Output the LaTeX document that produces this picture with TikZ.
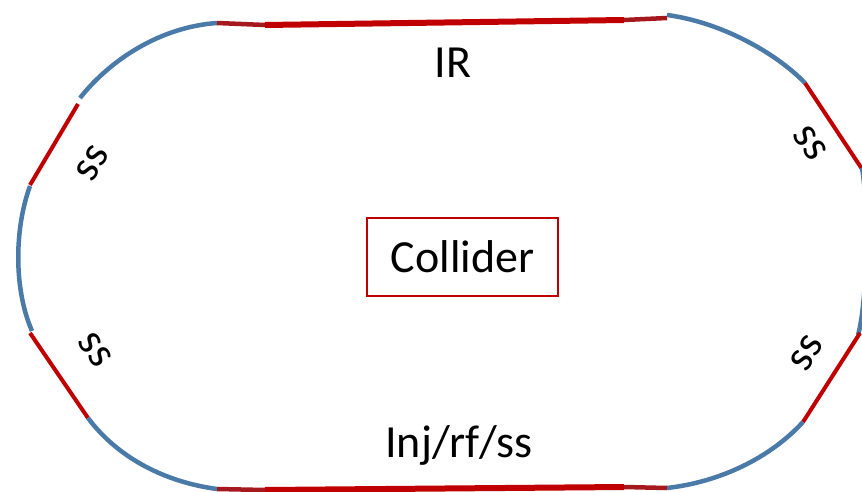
\documentclass[tikz,border=0pt]{standalone}
\usepackage{fontspec}
\setmainfont{Carlito}
\definecolor{arcblue}{RGB}{74,122,168}
\definecolor{ssred}{RGB}{192,0,0}
\definecolor{thinred}{RGB}{165,25,30}
\begin{document}
\begin{tikzpicture}[x=1pt,y=-1pt,
  arcline/.style={draw=arcblue,line width=4.5pt},
  chord/.style={draw=ssred,line width=4pt},
  straightthick/.style={draw=ssred,line width=6pt},
  straightthin/.style={draw=thinred,line width=4.5pt},
  lbl/.style={font=\fontsize{46}{55}\selectfont,inner sep=0pt},
  sslbl/.style={font=\fontsize{44}{52}\selectfont,inner sep=0pt}]
\useasboundingbox (0,0) rectangle (862,492);
\clip (0,0) rectangle (862,492);
% key points
\coordinate (tl) at (217,23);
\coordinate (tlt) at (265,25);
\coordinate (trt) at (624,20);
\coordinate (tr) at (667,15);
\coordinate (bl) at (217,489);
\coordinate (blt) at (265,490);
\coordinate (brt) at (624,487);
\coordinate (br) at (667,488);
% left side
\path[arcline] (tl) .. controls (160,27) and (110,60) .. (80,98);
\path[chord] (78,104) -- (30,185);
\path[arcline] (30,186) .. controls (14,230) and (14,290) .. (32,331);
\path[chord] (30,333) -- (88,418);
\path[arcline] (88,418) .. controls (118,458) and (165,482) .. (bl);
% right side
\path[arcline] (tr) .. controls (720,22) and (775,52) .. (805,83);
\path[chord] (805,83) -- (864,172);
\path[arcline] (862,168) .. controls (868,200) and (868,300) .. (858,335);
\path[chord] (860,333) -- (803,422);
\path[arcline] (803,422) .. controls (770,458) and (720,482) .. (br);
% straights
\path[straightthin] (tl) -- (tlt);
\path[straightthick] (tlt) -- (trt);
\path[straightthin] (trt) -- ([yshift=-3pt]tr);
\path[straightthin] (bl) -- (blt);
\path[straightthick] (blt) -- (brt);
\path[straightthin] (brt) -- (br);
% labels
\node[lbl,anchor=base] (ir) at (453,78) {IR};
\node[lbl,anchor=base] (inj) at (459,457) {Inj/rf/ss};
\node[lbl,draw=ssred,line width=1.5pt,minimum width=191pt,minimum height=78pt] (col) at (462.5,257) {Collider};
\node[sslbl,rotate=59] (ss1) at (92,163) {ss};
\node[sslbl,rotate=-56] (ss2) at (95,350) {ss};
\node[sslbl,rotate=-57] (ss3) at (810,143) {ss};
\node[sslbl,rotate=58] (ss4) at (807,353) {ss};
\end{tikzpicture}
\end{document}
